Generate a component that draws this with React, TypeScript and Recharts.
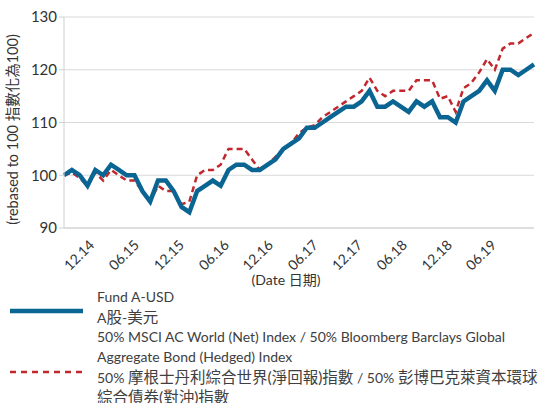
import React from 'react'
import { LineChart, Line, XAxis, YAxis, CartesianGrid } from 'recharts'

// Values (rebased to 100)
const fundValues = [
  100, 101, 100, 98, 101, 100, 102, 101, 100, 100, 97, 95, 99, 99, 97, 94, 93, 97, 98, 99, 98,
  101, 102, 102, 101, 101, 102, 103, 105, 106, 107, 109, 109, 110, 111, 112, 113, 113, 114, 116,
  113, 113, 114, 113, 112, 114, 113, 114, 111, 111, 110, 114, 115, 116, 118, 116, 120, 120, 119,
  120, 121,
]
const benchmarkValues = [
  100, 100.5, 99.5, 98, 100.5, 99, 101, 100, 99, 99, 97, 95, 98, 97, 97, 94.5, 95, 100, 101, 101,
  102, 105, 105, 105, 103, 101, 102, 103.5, 105, 106, 108, 109, 109.5, 111, 112, 113, 114, 115, 116,
  118.5, 116, 115, 116, 116, 116, 118, 118, 118, 114.5, 115, 112, 116.5, 117.5, 119.5, 122, 120,
  124, 125, 125, 126, 127,
]
const tickPositions = [4, 9.7, 15.45, 21.2, 26.8, 32.55, 38.2, 43.9, 49.65, 55.3]
const tickLabels = ['12.14', '06.15', '12.15', '06.16', '12.16', '06.17', '12.17', '06.18', '12.18', '06.19']
const yTicks = [90, 100, 110, 120, 130]

const FONT = "Lato, 'Noto Sans CJK TC', sans-serif"
const BLUE = '#0b6592'
const RED = '#c1272d'

const chartData = fundValues.map((v, i) => ({ i, fund: v, bench: benchmarkValues[i] }))

function DateTick(props: any) {
  const { x, y, payload } = props
  const idx = tickPositions.indexOf(payload.value)
  return (
    <text
      x={x}
      y={y + 10}
      textAnchor="end"
      fontSize={14}
      fill="#333"
      fontFamily={FONT}
      transform={`rotate(-45 ${x} ${y + 10})`}
    >
      {tickLabels[idx]}
    </text>
  )
}

function YTitle(props: any) {
  const { viewBox } = props
  const cy = viewBox.y + viewBox.height / 2 + 7
  return (
    <text
      x={18}
      y={cy}
      textAnchor="middle"
      fontSize={14.5}
      fill="#333"
      fontFamily={FONT}
      transform={`rotate(-90 18 ${cy})`}
    >
      (rebased to 100 指數化為100)
    </text>
  )
}

const legendLine: React.CSSProperties = { height: 20, lineHeight: '20px', whiteSpace: 'nowrap' }
const cjk: React.CSSProperties = { fontSize: 15.5 }

export default function App() {
  return (
    <div style={{ position: 'absolute', left: 0, top: 0, width: 548, height: 403, overflow: 'hidden', background: '#fff' }}>
      <LineChart width={548} height={290} data={chartData} margin={{ top: 17, right: 14, left: 0, bottom: 0 }}>
        <CartesianGrid vertical={false} stroke="#d9d9d9" strokeWidth={1} />
        <XAxis
          dataKey="i"
          type="number"
          domain={[0, 60]}
          ticks={tickPositions}
          interval={0}
          tick={<DateTick />}
          tickLine={false}
          axisLine={{ stroke: '#d0d0d0' }}
          height={62}
          label={{ value: '(Date 日期)', position: 'insideBottom', offset: 5, dx: -13, fontSize: 14, fill: '#333', fontFamily: FONT }}
        />
        <YAxis
          domain={[90, 130]}
          ticks={yTicks}
          width={64}
          tick={{ fontSize: 15, fill: '#333', fontFamily: FONT }}
          tickLine={{ stroke: '#d0d0d0' }}
          tickSize={5}
          axisLine={{ stroke: '#d0d0d0' }}
          label={<YTitle />}
        />
        <Line dataKey="bench" stroke={RED} strokeWidth={2.5} strokeDasharray="6 4" dot={false} isAnimationActive={false} />
        <Line dataKey="fund" stroke={BLUE} strokeWidth={4.5} dot={false} isAnimationActive={false} />
      </LineChart>
      <div style={{ position: 'absolute', left: 0, top: 287, width: 548, fontFamily: FONT, fontSize: 14, color: '#404040' }}>
        <svg width={90} height={120} style={{ position: 'absolute', left: 0, top: 0 }}>
          <line x1={10} x2={83} y1={24} y2={24} stroke={BLUE} strokeWidth={4.5} />
          <line x1={10} x2={83} y1={85} y2={85} stroke={RED} strokeWidth={2.5} strokeDasharray="6 5" />
        </svg>
        <div style={{ position: 'absolute', left: 97, top: 0 }}>
          <div style={legendLine}>Fund A-USD</div>
          <div style={legendLine}>A<span style={cjk}>股</span>-<span style={cjk}>美元</span></div>
          <div style={legendLine}>50% MSCI AC World (Net) Index / 50% Bloomberg Barclays Global</div>
          <div style={legendLine}>Aggregate Bond (Hedged) Index</div>
          <div style={legendLine}>50% <span style={cjk}>摩根士丹利綜合世界(淨回報)指數</span> / 50% <span style={cjk}>彭博巴克萊資本環球</span></div>
          <div style={legendLine}><span style={cjk}>綜合債券(對沖)指數</span></div>
        </div>
      </div>
    </div>
  )
}
